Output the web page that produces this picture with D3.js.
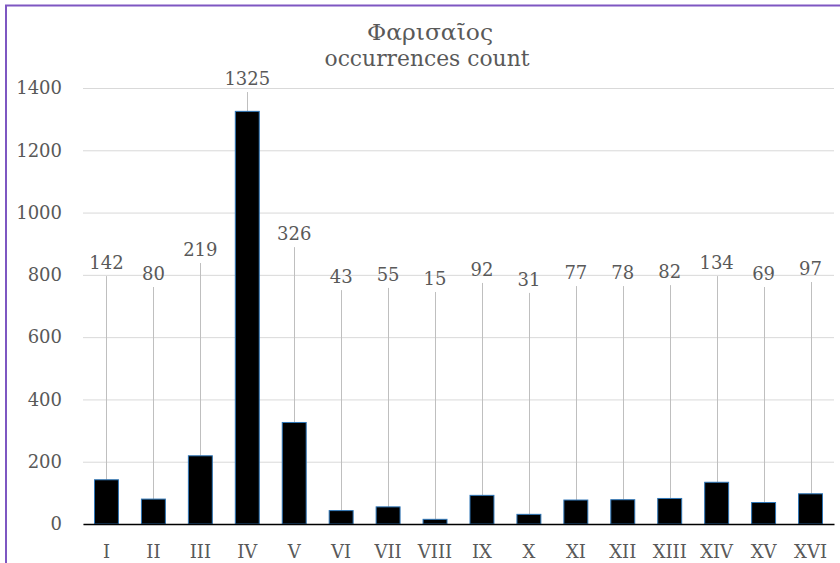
<!DOCTYPE html>
<html lang="en">
<head>
    <meta charset="UTF-8">
    <title>Φαρισαῖος occurrences count</title>
    <script src="https://cdn.jsdelivr.net/npm/d3@7/dist/d3.min.js"></script>
    <style>
        body{margin: 0; background: #fff}
        svg text{font-family: "DejaVu Serif", serif; fill: #595959}
        svg .bar{fill: #000; stroke: #2E75B6; stroke-width: 1}
        svg .leader{stroke: #bfbfbf; stroke-width: 1}
        svg .grid line{stroke: #d9d9d9}
    </style>
</head>
<body>
    <svg></svg>
    <script>
        var books = ['I', 'II', 'III', 'IV', 'V', 'VI', 'VII', 'VIII', 'IX', 'X', 'XI', 'XII', 'XIII', 'XIV', 'XV', 'XVI']
        var counts = [142, 80, 219, 1325, 326, 43, 55, 15, 92, 31, 77, 78, 82, 134, 69, 97]
        // where each data label sits, in axis units (manual label placement)
        var labelLevel = [796, 761, 838, 1387, 889, 751, 758, 745, 774, 742, 764, 764, 767, 796, 761, 777]
        var yTicks = [0, 200, 400, 600, 800, 1000, 1200, 1400]
        var titleLines = ['Φαρισαῖος', 'occurrences count']

        var width = 840, height = 563
        var plot = {left: 83, right: 834, top: 88, bottom: 524}

        var svg = d3.select('svg')
            .attr('width', width)
            .attr('height', height)

        // outer frame
        svg.append('rect')
            .attr('x', 6).attr('y', 5.5)
            .attr('width', 860).attr('height', 620)
            .attr('fill', 'none')
            .attr('stroke', '#7E57C2')
            .attr('stroke-width', 2)

        var x = d3.scaleBand()
            .domain(books)
            .range([plot.left, plot.right])
            .paddingInner(0.49)
            .paddingOuter(0.245)

        var y = d3.scaleLinear()
            .domain([0, 1400])
            .range([plot.bottom, plot.top])

        // gridlines + y labels
        svg.append('g')
            .attr('class', 'grid')
            .attr('transform', `translate(${plot.left}, 0)`)
            .call(d3.axisLeft(y)
                .tickValues(yTicks)
                .tickFormat(d3.format('d'))
                .tickSize(-(plot.right - plot.left))
                .tickPadding(21))
            .call(g => g.select('.domain').remove())
            .call(g => g.selectAll('text').attr('font-size', 18).attr('font-family', null))

        // leader lines from bar top to label
        svg.selectAll('.leader')
            .data(counts)
            .enter()
            .append('line')
            .attr('class', 'leader')
            .attr('x1', (d, i) => Math.round(x(books[i]) + x.bandwidth() / 2) + 0.5)
            .attr('x2', (d, i) => Math.round(x(books[i]) + x.bandwidth() / 2) + 0.5)
            .attr('y1', d => y(d))
            .attr('y2', (d, i) => y(labelLevel[i]))

        // bars
        svg.selectAll('.bar')
            .data(counts)
            .enter()
            .append('rect')
            .attr('class', 'bar')
            .attr('x', (d, i) => x(books[i]))
            .attr('y', d => y(d))
            .attr('width', x.bandwidth())
            .attr('height', d => y(0) - y(d))

        // data labels
        svg.selectAll('.val')
            .data(counts)
            .enter()
            .append('text')
            .attr('class', 'val')
            .attr('x', (d, i) => x(books[i]) + x.bandwidth() / 2)
            .attr('y', (d, i) => y(labelLevel[i]) - 7)
            .attr('text-anchor', 'middle')
            .attr('font-size', 18)
            .text(d => d)

        // category axis
        svg.append('g')
            .attr('transform', `translate(0, ${plot.bottom})`)
            .call(d3.axisBottom(x).tickSize(0).tickSizeOuter(0).tickPadding(21))
            .call(g => g.select('.domain').attr('stroke', '#000').attr('stroke-width', 1.5))
            .call(g => g.selectAll('text').attr('font-size', 18).attr('font-family', null))

        // title
        var titlePos = [[430, 40, 126], [427, 66, 205]]
        titleLines.forEach((t, i) => {
            svg.append('text')
                .attr('x', titlePos[i][0]).attr('y', titlePos[i][1])
                .attr('text-anchor', 'middle')
                .attr('font-size', 22)
                .attr('textLength', titlePos[i][2])
                .attr('lengthAdjust', 'spacingAndGlyphs')
                .text(t)
        })
    </script>
</body>
</html>
